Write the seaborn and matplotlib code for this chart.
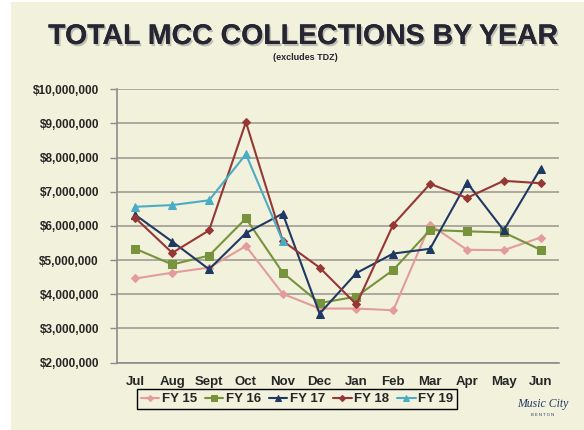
import matplotlib
matplotlib.use("Agg")
import matplotlib.pyplot as plt
import matplotlib.patheffects as pe
from matplotlib.patches import Rectangle
from matplotlib.ticker import FuncFormatter, FixedLocator
import pandas as pd
import seaborn as sns

months = ["Jul", "Aug", "Sept", "Oct", "Nov", "Dec", "Jan", "Feb", "Mar", "Apr", "May", "Jun"]
fy15 = [4.46, 4.63, 4.78, 5.41, 4.01, 3.58, 3.58, 3.53, 6.04, 5.30, 5.29, 5.66]
fy16 = [5.33, 4.87, 5.13, 6.22, 4.63, 3.74, 3.93, 4.71, 5.88, 5.84, 5.81, 5.30]
fy17 = [6.32, 5.54, 4.73, 5.79, 6.36, 3.43, 4.62, 5.19, 5.33, 7.27, 5.87, 7.68]
fy18 = [6.23, 5.21, 5.87, 9.04, 5.56, 4.78, 3.70, 6.04, 7.23, 6.82, 7.32, 7.25]
fy19 = [6.56, 6.61, 6.75, 8.10, 5.56]

series = {"FY 15": fy15, "FY 16": fy16, "FY 17": fy17, "FY 18": fy18, "FY 19": fy19}
colors = {"FY 15": "#E39C9B", "FY 16": "#77933C", "FY 17": "#1F3864",
          "FY 18": "#953735", "FY 19": "#4BACC6"}
markers = {"FY 15": "D", "FY 16": "s", "FY 17": "^", "FY 18": "D", "FY 19": "^"}
msizes = {"FY 15": 4.2, "FY 16": 5.8, "FY 17": 5.2, "FY 18": 4.2, "FY 19": 5.2}

rows = []
for name, vals in series.items():
    for i, v in enumerate(vals):
        rows.append({"month": i, "label": months[i], "series": name, "value": v * 1e6})
df = pd.DataFrame(rows)

sns.set_theme(style="white")
plt.rcParams["font.family"] = ["Liberation Sans", "DejaVu Sans"]
bg = "#F2F1DC"

fig = plt.figure(figsize=(5.84, 4.30), dpi=100)
fig.patch.set_facecolor("white")
fig.add_artist(Rectangle((11 / 584, 0), 1, 1 - 2 / 430, transform=fig.transFigure,
                         facecolor=bg, edgecolor="none", zorder=-10))

ax = fig.add_axes([117 / 584, 1 - 362.5 / 430, (559 - 117) / 584, (362.5 - 89.3) / 430])
ax.set_facecolor(bg)

for name in series:
    sub = df[df["series"] == name]
    sns.lineplot(data=sub, x="month", y="value", ax=ax, color=colors[name],
                 marker=markers[name], markersize=msizes[name],
                 markeredgecolor=colors[name], linewidth=1.5, label=name)

ax.set_xlim(-0.5, 11.5)
ax.set_ylim(2e6, 10e6)
ax.set_yticks([i * 1e6 for i in range(2, 11)])
ax.yaxis.set_major_formatter(FuncFormatter(lambda v, p: "${:,.0f}".format(v)))
ax.grid(axis="y", color="#A6A49A", linewidth=1.3)
ax.set_axisbelow(True)

ax.set_xticks(range(12))
ax.set_xticklabels(months)
ax.xaxis.set_minor_locator(FixedLocator([i - 0.5 for i in range(13)]))
ax.tick_params(axis="x", which="major", length=0, pad=10, labelsize=9.5)
ax.tick_params(axis="x", which="minor", length=5, color="#8C8C8C", width=1, direction="out")
ax.tick_params(axis="y", length=5, color="#8C8C8C", width=1, pad=8, labelsize=8.5, left=True)
for lab in ax.get_xticklabels() + ax.get_yticklabels():
    lab.set_fontweight("bold")
ax.set_xlabel("")
ax.set_ylabel("")

for s in ["top", "right"]:
    ax.spines[s].set_visible(False)
for s in ["left", "bottom"]:
    ax.spines[s].set_color("#8C8C8C")
    ax.spines[s].set_linewidth(1.2)

leg = ax.legend(loc="center", bbox_to_anchor=(297 / 584, 1 - 399 / 430),
                bbox_transform=fig.transFigure, ncol=5, frameon=True, fancybox=False,
                handlelength=1.4, handletextpad=0.2, columnspacing=0.6,
                borderpad=0.3, markerscale=0.75, prop={"weight": "bold", "size": 9.5})
leg.get_frame().set_edgecolor("black")
leg.get_frame().set_linewidth(1.0)
leg.get_frame().set_facecolor(bg)
leg.get_frame().set_alpha(1)

fig.text(303 / 584, 1 - 37 / 430, "TOTAL MCC COLLECTIONS BY YEAR", ha="center", va="center",
         fontsize=20.5, fontweight="bold", color="#262633",
         path_effects=[pe.withSimplePatchShadow(offset=(1.2, -1.5), shadow_rgbFace="#8a8a8a", alpha=0.5),
                       pe.Normal()])
fig.text(305 / 584, 1 - 58 / 430, "(excludes TDZ)", ha="center", va="center",
         fontsize=6.5, fontweight="bold", color="#262633")

fig.text(543 / 584, 1 - 404 / 430, "Music City", ha="center", va="center",
         fontsize=8.5, style="italic", family="Liberation Serif", color="#1F3864")
fig.text(543 / 584, 1 - 415 / 430, "B E N T O N", ha="center", va="center",
         fontsize=3, color="#1F3864")

fig.savefig("out.png", dpi=100, facecolor=fig.get_facecolor())
